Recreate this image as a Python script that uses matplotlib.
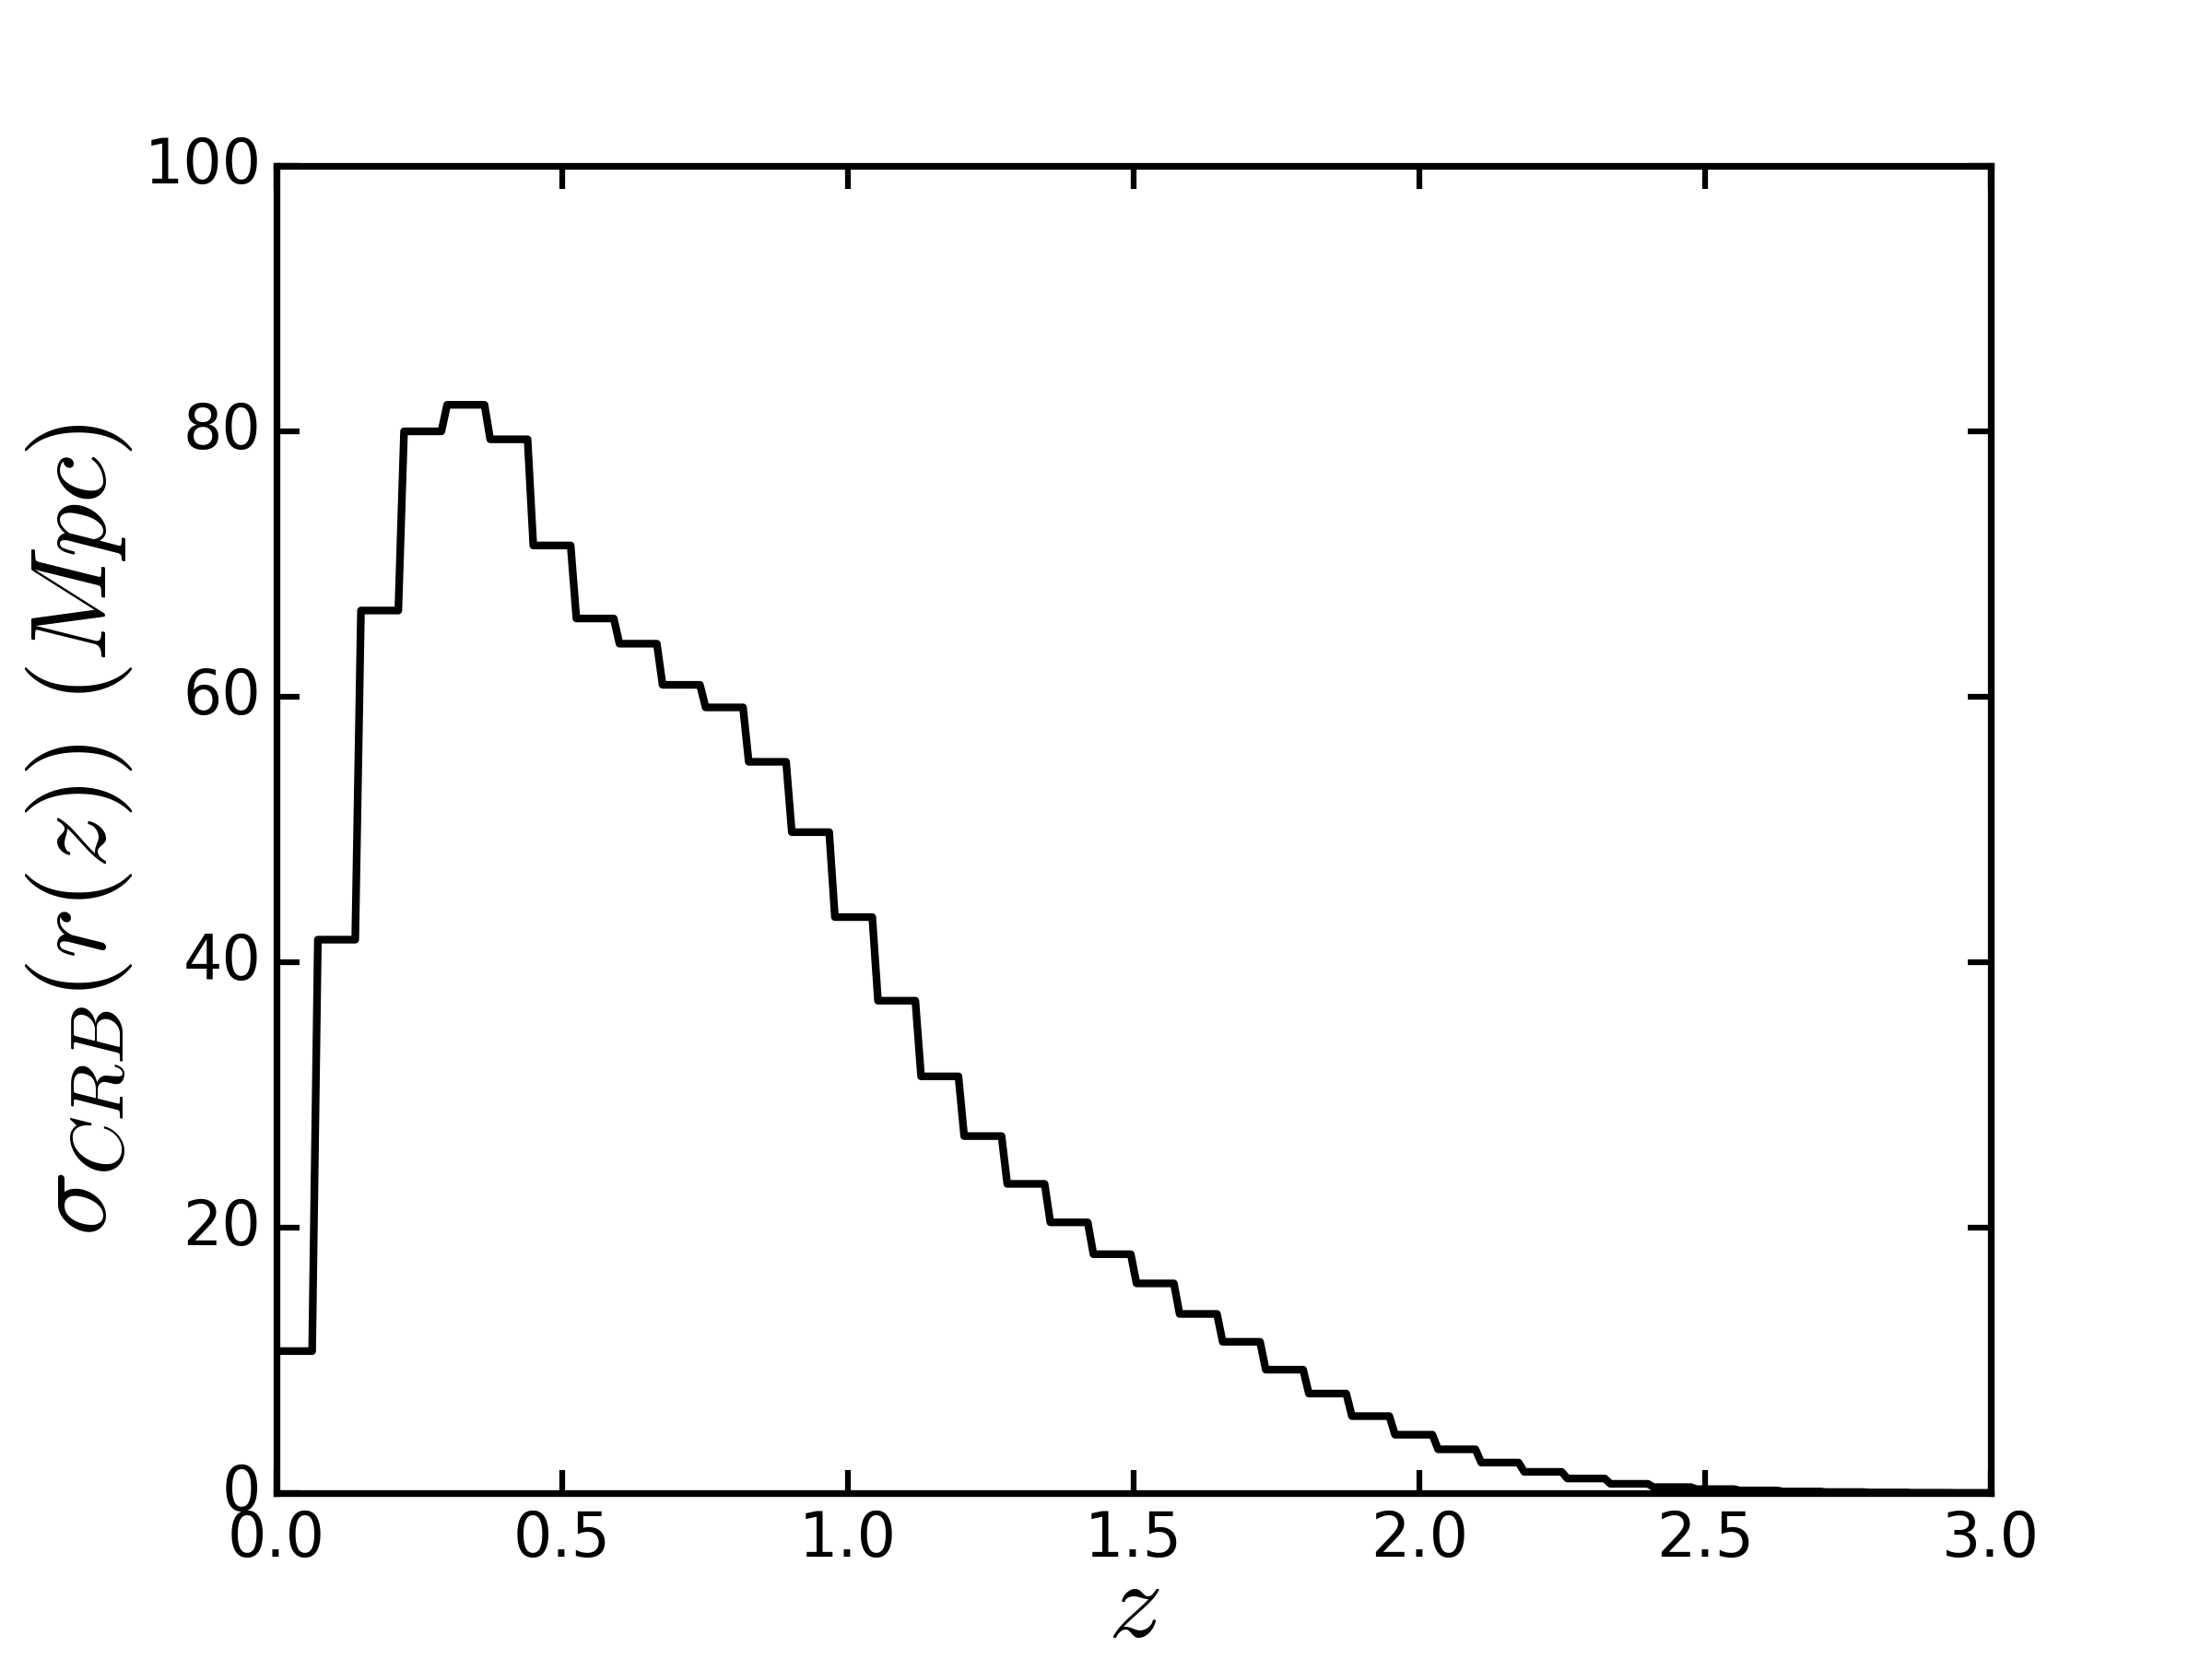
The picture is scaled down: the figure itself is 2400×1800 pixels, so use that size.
import numpy as np
import matplotlib
matplotlib.use('Agg')
from matplotlib import pyplot as plt

# sigma_CRB per redshift bin
sigma_crb = [10.7, 41.7, 66.5, 80.0, 82.0, 79.4, 71.4, 65.9, 64.0, 60.9,
             59.2, 55.1, 49.8, 43.4, 37.1, 31.4, 26.9, 23.3, 20.4, 18.0,
             15.8, 13.5, 11.4, 9.3, 7.5, 5.8, 4.4, 3.3, 2.3, 1.6,
             1.1, 0.7, 0.45, 0.3, 0.2, 0.12, 0.08, 0.05, 0.03, 0.02]
bin_width = 0.0754   # width of a z bin
gap = 0.010          # small slant between steps

plt.style.use('classic')
plt.rcParams['figure.facecolor'] = 'white'
plt.rcParams['savefig.facecolor'] = 'white'
plt.rcParams['mathtext.fontset'] = 'cm'

# build the step outline: flat over each bin, short slanted riser at the edge
z = []
s = []
for k, v in enumerate(sigma_crb):
    start = 0.0 if k == 0 else k * bin_width - 0.008 + gap / 2
    end = (k + 1) * bin_width - 0.008 - gap / 2
    z += [start, end]
    s += [v, v]

fig = plt.figure(figsize=(8, 6), dpi=300)
ax = fig.add_subplot(111)
ax.plot(z, s, color='k', lw=2)

ax.set_xlim(0, 3)
ax.set_ylim(0, 100)
ax.set_xticks([0.0, 0.5, 1.0, 1.5, 2.0, 2.5, 3.0])
ax.set_yticks([0, 20, 40, 60, 80, 100])
ax.tick_params(axis='both', which='major', labelsize=16, length=6, width=1.5)
for sp in ax.spines.values():
    sp.set_linewidth(1.75)

ax.set_xlabel(r'$z$', fontsize=28, labelpad=-4)
ax.set_ylabel(r'$\sigma_{CRB}(r(z))\ (Mpc)$', fontsize=28, labelpad=2.5)

plt.savefig('out.png', dpi=300)
